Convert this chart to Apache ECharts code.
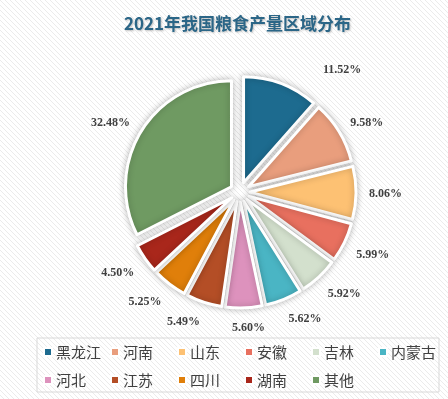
<!DOCTYPE html>
<html>
<head>
<meta charset="utf-8">
<script src="https://cdn.jsdelivr.net/npm/echarts@6/dist/echarts.min.js"></script>
<style>
html,body{margin:0;padding:0;background:#fff;}
#chart{width:448px;height:399px;}
</style>
</head>
<body>
<div id="chart"></div>
<script>
const titleText = '2021年我国粮食产量区域分布';
const regions = ['黑龙江','河南','山东','安徽','吉林','内蒙古','河北','江苏','四川','湖南','其他'];
const shares = [11.52, 9.58, 8.06, 5.99, 5.92, 5.62, 5.60, 5.49, 5.25, 4.50, 32.48];
const colors = ['#1d6b8f','#e99e7d','#fdc173','#e8705f','#d3e0cd','#4ab5c4','#dd92bd','#b44e26','#e07f0a','#a9271b','#6f9a62'];

const CX = 240, CY = 192, R = 106, OFFSET = 10, GAP = 8.5;

// diagonal stripe background
const pc = document.createElement('canvas');
pc.width = 5; pc.height = 5;
const g = pc.getContext('2d');
g.fillStyle = '#ffffff';
g.fillRect(0,0,5,5);
g.strokeStyle = '#ebebeb';
g.lineWidth = 1;
g.beginPath();
g.moveTo(-1,-1); g.lineTo(6,6);
g.moveTo(-1,4); g.lineTo(1,6);
g.moveTo(4,-1); g.lineTo(6,1);
g.stroke();

// mid angles of slices (clockwise from 12 o'clock), from the data
const total = shares.reduce((a, b) => a + b, 0);
const midAngles = [];
let acc = 0;
shares.forEach(v => { midAngles.push((acc + v / 2) / total * Math.PI * 2); acc += v; });

const fmt = v => v.toFixed(2) + '%';
const clamp = v => Math.max(-1, Math.min(1, v));

const chart = echarts.init(document.getElementById('chart'), null, {renderer:'canvas'});

const pieData = regions.map((n, i) => ({ name: n, value: shares[i], selected: true, itemStyle: { color: colors[i] } }));

// label ring just outside the exploded pie; each label box is pushed outward so its inner corner touches the ring
const labelRing = R + 1.5 + OFFSET + GAP;
const labelData = regions.map((n, i) => {
  const a = midAngles[i];
  const s = Math.sin(a), c = -Math.cos(a);
  const txt = fmt(shares[i]);
  const hw = (6 * (txt.length - 2) + 15) / 2;
  const hh = c > 0 ? 7 : 2;
  let off = [hw * clamp(s * 8), hh * clamp(c * 8)];
  if (i === 0) off = [off[0] + 37, off[1] + 1]; // label moved by hand in the original
  return { name: n, value: shares[i], label: { offset: off } };
});

chart.setOption({
  backgroundColor: { image: pc, repeat: 'repeat' },
  animation: false,
  title: {
    text: titleText,
    left: 119,
    top: 10,
    textStyle: {
      fontFamily: 'Noto Sans CJK SC',
      fontSize: 17,
      fontWeight: 'bold',
      color: '#2b6687',
      textShadowColor: 'rgba(0,0,0,0.25)',
      textShadowBlur: 2,
      textShadowOffsetX: 1,
      textShadowOffsetY: 1
    }
  },
  legend: {
    data: regions,
    left: 37,
    top: 338,
    width: 396,
    orient: 'horizontal',
    icon: 'rect',
    itemWidth: 8,
    itemHeight: 8,
    itemGap: 8,
    padding: [4, 2, 2, 6],
    borderColor: '#d9d9d9',
    borderWidth: 1,
    selectedMode: false,
    textStyle: {
      fontFamily: 'Noto Sans CJK SC',
      fontSize: 15,
      color: '#404040',
      width: 46,
      lineHeight: 20,
      padding: [0,0,0,-1]
    }
  },
  series: [{
    type: 'pie',
    center: [CX, CY],
    radius: [0, R],
    startAngle: 90,
    clockwise: true,
    selectedMode: 'multiple',
    selectedOffset: OFFSET,
    avoidLabelOverlap: false,
    itemStyle: {
      borderColor: '#ffffff',
      borderWidth: 3,
      shadowBlur: 6,
      shadowColor: 'rgba(0,0,0,0.25)'
    },
    label: { show: false },
    labelLine: { show: false },
    emphasis: { disabled: true },
    data: pieData
  }, {
    type: 'pie',
    center: [CX, CY],
    radius: [labelRing - 0.5, labelRing + 0.5],
    startAngle: 90,
    clockwise: true,
    silent: true,
    avoidLabelOverlap: false,
    itemStyle: { color: 'rgba(0,0,0,0)', borderWidth: 0 },
    label: {
      show: true,
      position: 'inside',
      formatter: p => fmt(p.value),
      fontFamily: 'Liberation Serif',
      fontWeight: 'bold',
      fontSize: 12,
      color: '#404040'
    },
    labelLine: { show: false },
    emphasis: { disabled: true },
    data: labelData
  }]
});
</script>
</body>
</html>
